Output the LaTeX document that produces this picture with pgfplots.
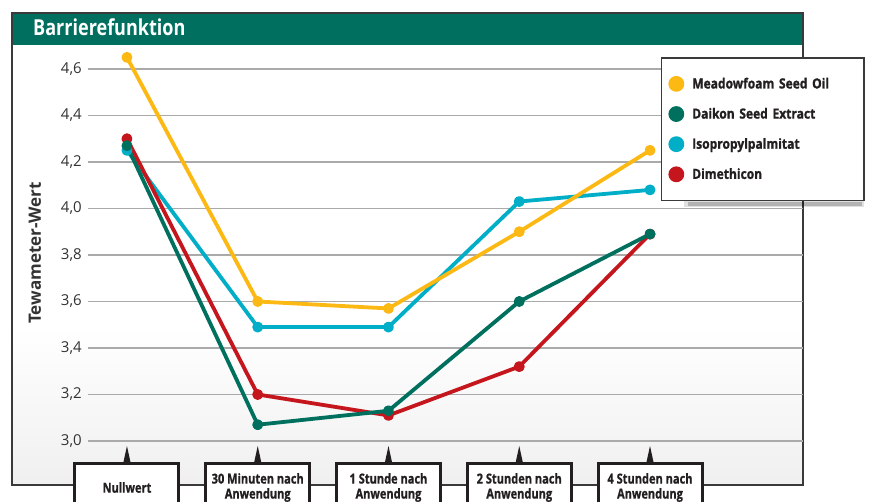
\documentclass[border=0pt]{standalone}
\usepackage{fontspec}
\setmainfont{Open Sans}
\newfontfamily\titlefont[FakeStretch=0.82]{Open Sans}
\newfontfamily\legfont[FakeStretch=0.86, FakeBold=1.2]{Open Sans}
\newfontfamily\catfont[FakeStretch=0.8, FakeBold=0.8]{Open Sans}
\usepackage{pgfplots}
\pgfplotsset{compat=1.18}
\pgfdeclarelayer{bg}
\pgfsetlayers{bg,main}
\definecolor{cYellow}{HTML}{FDB913}
\definecolor{cGreen}{HTML}{00705E}
\definecolor{cCyan}{HTML}{00AEC7}
\definecolor{cRed}{HTML}{C4161C}
\definecolor{cTitle}{HTML}{006F5F}
\definecolor{cFrame}{HTML}{3A3A3A}
\definecolor{cGrid}{HTML}{AAAAAA}
\definecolor{cBox}{HTML}{231F20}
\definecolor{cText}{HTML}{333333}
\newcommand\catlab[1]{\parbox[c][32pt][c]{104pt}{\centering\catfont\bfseries\fontsize{13.8}{15}\selectfont #1}}
\begin{document}
\begin{tikzpicture}[x=1pt,y=1pt]
\begin{axis}[
  scale only axis,
  width=715pt, height=395.25pt,
  xmin=-0.298, xmax=5.17, ymin=3.0, ymax=4.7,
  clip=false,
  axis line style={draw=none},
  major tick style={draw=none},
  ytick={3.0,3.2,3.4,3.6,3.8,4.0,4.2,4.4,4.6},
  ymajorgrids,
  grid style={cGrid, line width=1.2pt},
  yticklabel style={inner sep=0pt, xshift=-6pt, text=cText, font=\fontsize{15}{18}\selectfont,
    /pgf/number format/.cd, fixed, fixed zerofill, precision=1, use comma, assume math mode=true},
  xtick={0,1,2,3,4},
  xticklabels={{\catlab{Nullwert}},{\catlab{30 Minuten nach\\Anwendung}},{\catlab{1 Stunde nach\\Anwendung}},{\catlab{2 Stunden nach\\Anwendung}},{\catlab{4 Stunden nach\\Anwendung}}},
  xticklabel style={draw=cBox, line width=3pt, fill=white, inner xsep=0pt, inner ysep=7.5pt, anchor=north, yshift=-21.5pt, text=cBox},
  legend style={at={(1.0867,0.9715)}, anchor=north east, draw=cFrame, line width=1.5pt, fill=white,
    inner xsep=7pt, inner ysep=18pt, row sep=14pt, column sep=6pt,
    font=\legfont\bfseries\fontsize{14}{16}\selectfont, text=cBox,
    cells={anchor=west}},
  every axis plot/.append style={line width=3.8pt, line join=round, mark=*, mark size=3.5pt},
]
\coordinate (O) at (rel axis cs:0,0);
\addplot[cCyan, forget plot] coordinates {(0,4.25) (1,3.49) (2,3.49) (3,4.03) (4,4.08)};
\addplot[cYellow, forget plot] coordinates {(0,4.65) (1,3.60) (2,3.57) (3,3.90) (4,4.25)};
\addplot[cRed, forget plot] coordinates {(0,4.30) (1,3.20) (2,3.11) (3,3.32) (4,3.89)};
\addplot[cGreen, forget plot] coordinates {(0,4.27) (1,3.07) (2,3.13) (3,3.60) (4,3.89)};
\addlegendimage{legend image code/.code={\fill[cYellow] (0pt,0pt) circle (6pt);}}
\addlegendentry[text width=163pt]{Meadowfoam Seed Oil}
\addlegendimage{legend image code/.code={\fill[cGreen] (0pt,0pt) circle (6pt);}}
\addlegendentry[text width=163pt]{Daikon Seed Extract}
\addlegendimage{legend image code/.code={\fill[cCyan] (0pt,0pt) circle (6pt);}}
\addlegendentry[text width=163pt]{Isopropylpalmitat}
\addlegendimage{legend image code/.code={\fill[cRed] (0pt,0pt) circle (6pt);}}
\addlegendentry[text width=163pt]{Dimethicon}
\pgfplotsinvokeforeach{0,1,2,3,4}{
  \fill[cBox] (axis cs:#1,3.0) ++(0pt,-5pt) -- ++(3.5pt,-16pt) -- ++(-7pt,0pt) -- cycle;
}
\end{axis}
\begin{scope}[shift={(O)}, shift={(-88pt,-61pt)}]
\begin{pgfonlayer}{bg}
\fill[white] (12,17) rectangle (803,489);
\shade[top color=white, bottom color=black!6] (12,17) rectangle (803,175);
\fill[cTitle] (12,457) rectangle (803,489);
\draw[cFrame, line width=2pt] (12,17) rectangle (803,489);
\fill[black, opacity=0.12] (684,295) rectangle (864,301);
\fill[black, opacity=0.2] (688,296) rectangle (862,300);
\end{pgfonlayer}
\node[anchor=base west, text=white, inner sep=0pt, font=\titlefont\bfseries\fontsize{22}{26}\selectfont] at (33,466) {Barrierefunktion};
\node[rotate=90, text=cText, font=\bfseries\fontsize{17}{20}\selectfont] at (35,249) {Tewameter-Wert};
\pgfresetboundingbox
\path[use as bounding box] (0,0) rectangle (870,502);
\end{scope}
\end{tikzpicture}
\end{document}
